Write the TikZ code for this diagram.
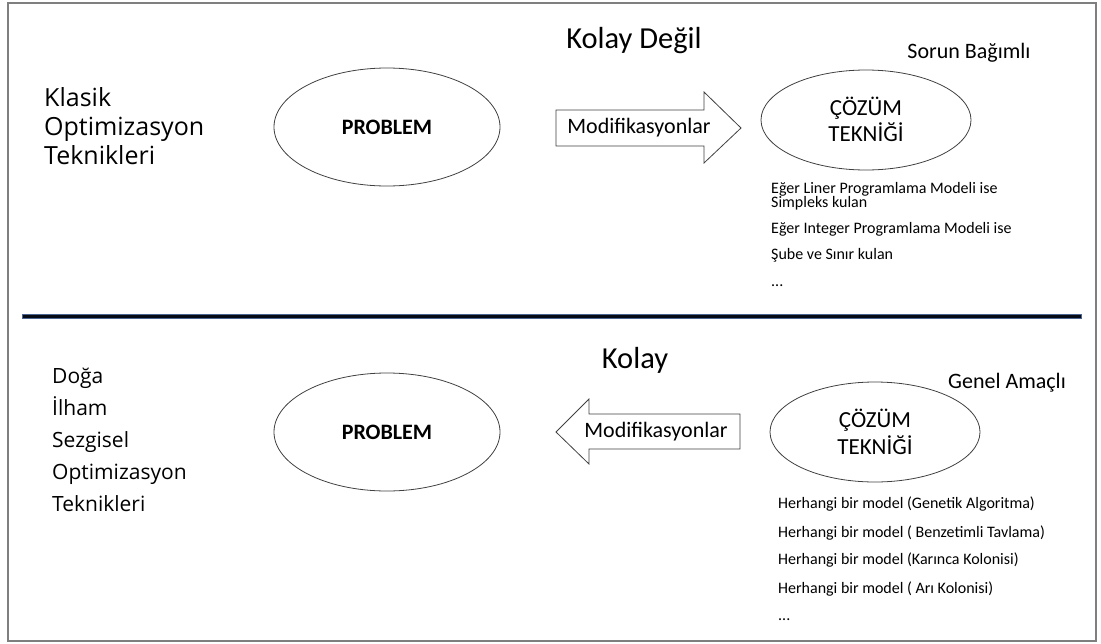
\documentclass[tikz,border=0pt]{standalone}
\usepackage{fontspec}
\setmainfont{Carlito}
\newfontfamily\leftfont{Open Sans}
\usetikzlibrary{shapes.geometric}
\definecolor{framegray}{HTML}{7F7F7F}
\definecolor{linegray}{HTML}{404040}
\definecolor{sepfill}{HTML}{060B16}
\definecolor{sepedge}{HTML}{4A6591}
\tikzset{
  oval/.style={ellipse, draw=linegray, line width=0.8pt, inner sep=0pt},
  blockarrow/.style={draw=linegray, line width=0.8pt, fill=white, line join=miter},
  fs/.style={font=\fontsize{#1}{#1}\selectfont},
  listline/.style={anchor=base west, inner sep=0pt, font=\fontsize{16}{16}\selectfont},
  lefttext/.style={anchor=base west, inner sep=0pt, font=\leftfont\fontsize{#1}{#1}\selectfont},
  ovaltext/.style={anchor=base, inner sep=0pt, font=\fontsize{23}{23}\selectfont},
}
\begin{document}
\begin{tikzpicture}[x=1pt, y=-1pt]
\useasboundingbox (0,0) rectangle (1101,643);
% frame
\draw[framegray, line width=1.5pt] (8,3) rectangle (1096,641);
% separator
\draw[sepedge, fill=sepfill, line width=0.6pt] (22,314) rectangle (1081,318);

% ---------- top section ----------
\node[lefttext=25] (k1) at (44,106) {Klasik};
\node[lefttext=25] (k2) at (44,135) {Optimizasyon};
\node[lefttext=25] (k3) at (44,164) {Teknikleri};

\node[anchor=base, inner sep=0pt, fs=30.5] (kd) at (634,48) {Kolay Değil};
\node[anchor=base, inner sep=0pt, fs=22] (sb) at (969,58) {Sorun Bağımlı};

\node[oval, minimum width=226pt, minimum height=118pt, font=\bfseries\fontsize{22}{22}\selectfont] (p1) at (387,127) {PROBLEM};

\draw[blockarrow] (556,110) coordinate (a1) -- (704,110) -- (704,92) -- (741,128) -- (704,163) -- (704,146) -- (556,146) -- cycle;
\node[fs=22, inner sep=0pt] (m1) at (639,128) {Modifikasyonlar};

\node[oval, minimum width=210pt, minimum height=100pt] (c1) at (866,120) {};
\node[ovaltext] (c1a) at (866,115) {ÇÖZÜM};
\node[ovaltext] (c1b) at (866,141) {TEKNİĞİ};

\node[listline] (t1) at (771,193) {Eğer Liner Programlama Modeli ise};
\node[listline] (t2) at (771,207) {Simpleks kulan};
\node[listline] (t3) at (771,233) {Eğer Integer Programlama Modeli ise};
\node[listline] (t4) at (771,259) {Şube ve Sınır kulan};
\node[listline] (t5) at (771,286) {...};

% ---------- bottom section ----------
\node[lefttext=21] (d1) at (52,383) {Doğa};
\node[lefttext=21] (d2) at (52,415) {İlham};
\node[lefttext=21] (d3) at (52,447) {Sezgisel};
\node[lefttext=21] (d4) at (52,479) {Optimizasyon};
\node[lefttext=21] (d5) at (52,511) {Teknikleri};

\node[anchor=base, inner sep=0pt, fs=30.5] (ko) at (635,368) {Kolay};
\node[anchor=base, inner sep=0pt, fs=22] (ga) at (1007,388) {Genel Amaçlı};

\node[oval, minimum width=226pt, minimum height=118pt, font=\bfseries\fontsize{22}{22}\selectfont] (p2) at (387,432) {PROBLEM};

\draw[blockarrow] (740,414) coordinate (a2) -- (589,414) -- (589,399) -- (556,432) -- (589,464) -- (589,449) -- (740,449) -- cycle;
\node[fs=22, inner sep=0pt] (m2) at (656,432) {Modifikasyonlar};

\node[oval, minimum width=210pt, minimum height=100pt] (c2) at (875,432) {};
\node[ovaltext] (c2a) at (875,427) {ÇÖZÜM};
\node[ovaltext] (c2b) at (875,454) {TEKNİĞİ};

\node[listline] (h1) at (778,508) {Herhangi bir model (Genetik Algoritma)};
\node[listline] (h2) at (778,537) {Herhangi bir model ( Benzetimli Tavlama)};
\node[listline] (h3) at (778,564) {Herhangi bir model (Karınca Kolonisi)};
\node[listline] (h4) at (778,593) {Herhangi bir model ( Arı Kolonisi)};
\node[listline] (h5) at (778,620) {...};
\end{tikzpicture}
\end{document}
